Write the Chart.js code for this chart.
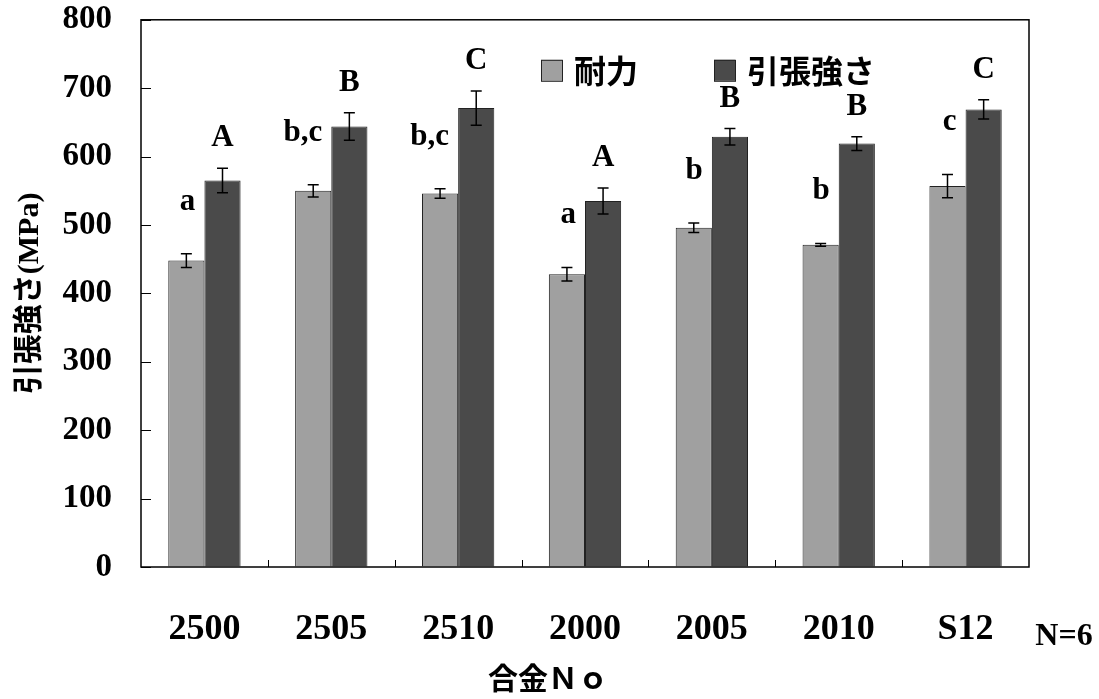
<!DOCTYPE html>
<html>
<head>
<meta charset="utf-8">
<script src="https://cdn.jsdelivr.net/npm/chart.js@4.4.1/dist/chart.umd.min.js"></script>
<style>
  body { margin: 0; background: #fff; }
  #wrap { width: 1099px; height: 699px; }
</style>
</head>
<body>
<div id="wrap"><canvas id="myChart"></canvas></div>
<script>
  const categories = ['2500', '2505', '2510', '2000', '2005', '2010', 'S12'];
  const yieldVals = [448, 550, 546, 428, 496, 471, 557];
  const yieldErr = [10, 9, 7, 10, 7, 2, 17];
  const tensileVals = [565, 644, 671, 535, 629, 619, 669];
  const tensileErr = [18, 20, 25, 19, 12, 10, 14];
  const yieldLetters = ['a', 'b,c', 'b,c', 'a', 'b', 'b', 'c'];
  const tensileLetters = ['A', 'B', 'C', 'A', 'B', 'B', 'C'];
  const seriesNames = ['耐力', '引張強さ'];
  const yMin = 0, yMax = 800, yStep = 100;

  const serif = "'Liberation Serif', 'Times New Roman', serif";
  const cjk = "'Noto Sans CJK JP', sans-serif";

  // error bars, letters, frame, inner ticks, legend, titles
  const decor = {
    id: 'decor',
    afterDatasetsDraw(chart) {
      const ctx = chart.ctx;
      const area = chart.chartArea;
      const ys = chart.scales.y;
      const errs = [yieldErr, tensileErr];
      const letters = [yieldLetters, tensileLetters];
      const lift = [52, 30];
      ctx.save();

      chart.data.datasets.forEach((ds, i) => {
        const meta = chart.getDatasetMeta(i);
        meta.data.forEach((bar, j) => {
          const v = ds.data[j];
          const e = errs[i][j];
          const yt = ys.getPixelForValue(v + e);
          const yb = ys.getPixelForValue(v - e);
          ctx.strokeStyle = '#000';
          ctx.lineWidth = 1.5;
          ctx.beginPath();
          ctx.moveTo(bar.x, yt); ctx.lineTo(bar.x, yb);
          ctx.moveTo(bar.x - 5.5, yt); ctx.lineTo(bar.x + 5.5, yt);
          ctx.moveTo(bar.x - 5.5, yb); ctx.lineTo(bar.x + 5.5, yb);
          ctx.stroke();

          ctx.fillStyle = '#000';
          ctx.font = 'bold 31px ' + serif;
          ctx.textBaseline = 'middle';
          if (i === 0) {
            ctx.textAlign = 'right';
            ctx.fillText(letters[i][j], bar.x + 9, yt - lift[i]);
          } else {
            ctx.textAlign = 'center';
            ctx.fillText(letters[i][j], bar.x, yt - lift[i]);
          }
        });
      });

      // frame
      ctx.strokeStyle = '#000';
      ctx.lineWidth = 1.5;
      ctx.strokeRect(area.left, area.top, area.right - area.left, area.bottom - area.top);

      // inner ticks
      ctx.lineWidth = 1;
      for (let v = yMin; v <= yMax; v += yStep) {
        const y = Math.round(ys.getPixelForValue(v)) + 0.5;
        ctx.beginPath(); ctx.moveTo(area.left, y); ctx.lineTo(area.left + 10, y); ctx.stroke();
      }
      const cw = (area.right - area.left) / categories.length;
      for (let k = 1; k < categories.length; k++) {
        const x = Math.round(area.left + k * cw) + 0.5;
        ctx.beginPath(); ctx.moveTo(x, area.bottom); ctx.lineTo(x, area.bottom - 7); ctx.stroke();
      }

      // legend
      let lx = area.left + 400;
      const ly = area.top + 51;
      ctx.font = 'bold 32px ' + cjk;
      ctx.textAlign = 'left';
      ctx.textBaseline = 'middle';
      chart.data.datasets.forEach((ds, i) => {
        ctx.fillStyle = ds.backgroundColor;
        ctx.fillRect(lx, ly - 11, 21, 21);
        ctx.strokeStyle = '#222';
        ctx.lineWidth = 1;
        ctx.strokeRect(lx + 0.5, ly - 10.5, 21, 21);
        ctx.fillStyle = '#000';
        ctx.fillText(ds.label, lx + 33, ly);
        lx += 33 + ctx.measureText(ds.label).width + 76;
      });

      // x title and N
      ctx.fillStyle = '#000';
      ctx.textAlign = 'center';
      ctx.font = 'bold 30px ' + cjk;
      ctx.fillText('合金Ｎｏ', 548, 678);
      ctx.font = 'bold 32px ' + serif;
      ctx.fillText('N=6', 1064, 637);
      ctx.restore();
    }
  };

  new Chart(document.getElementById('myChart'), {
    type: 'bar',
    data: {
      labels: categories,
      datasets: [{
        label: seriesNames[0],
        data: yieldVals,
        backgroundColor: '#a0a0a0',
        borderColor: '#222',
        borderWidth: 1
      }, {
        label: seriesNames[1],
        data: tensileVals,
        backgroundColor: '#4a4a4a',
        borderColor: '#222',
        borderWidth: 1
      }]
    },
    options: {
      responsive: true,
      maintainAspectRatio: false,
      animation: false,
      layout: { padding: { top: -3, right: 70, left: 0, bottom: 0 } },
      plugins: { legend: { display: false }, tooltip: { enabled: false } },
      datasets: { bar: { categoryPercentage: 0.57, barPercentage: 1 } },
      scales: {
        x: {
          grid: { display: false },
          border: { display: false },
          ticks: { color: '#000', padding: 33, font: { family: serif, weight: 'bold', size: 36 } },
          afterFit: s => { s.height = 132; }
        },
        y: {
          min: yMin,
          max: yMax,
          grid: { display: true, drawOnChartArea: false, drawTicks: true, tickLength: 29, tickColor: 'rgba(0,0,0,0)' },
          border: { display: false },
          ticks: { stepSize: yStep, color: '#000', padding: 0, font: { family: serif, weight: 'bold', size: 33 } },
          title: {
            display: true,
            text: '引張強さ(MPa)',
            color: '#000',
            padding: { top: 12, bottom: 0 },
            font: { family: "'Liberation Serif', 'Noto Sans CJK JP', serif", weight: 'bold', size: 30 }
          },
          afterFit: s => { s.width = 141; }
        }
      }
    },
    plugins: [decor]
  });
</script>
</body>
</html>
